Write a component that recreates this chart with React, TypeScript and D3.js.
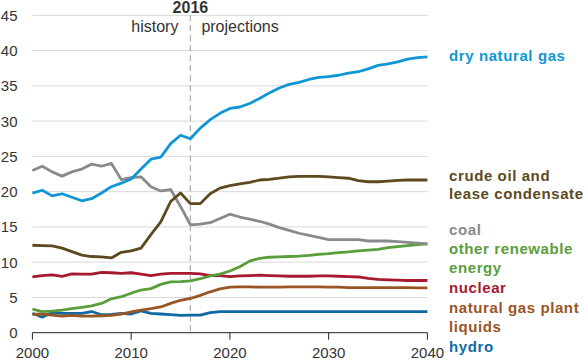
import React, { useEffect, useRef } from "react";
import * as d3 from "d3";

// years 2000..2040
const years = d3.range(2000, 2041);

const dryNaturalGas = [
	19.8, 20.2, 19.4, 19.7, 19.2, 18.7, 19.0, 19.8, 20.7, 21.2, 21.8, 23.2, 24.6, 24.9, 26.8, 28.0, 27.5,
	29.0, 30.2, 31.1, 31.8, 32.0, 32.5, 33.2, 34.0, 34.7, 35.2, 35.5, 35.9, 36.2, 36.3, 36.5, 36.8, 37.0,
	37.4, 37.9, 38.1, 38.4, 38.8, 39.0, 39.1,
];
const crudeOil = [
	12.4, 12.35, 12.3, 12.0, 11.5, 11.0, 10.8, 10.75, 10.6, 11.4, 11.6, 12.0, 13.9, 15.7, 18.6, 19.8, 18.3,
	18.3, 19.7, 20.5, 20.85, 21.1, 21.3, 21.65, 21.75, 21.9, 22.1, 22.15, 22.15, 22.15, 22.1, 22.0, 21.9,
	21.55, 21.4, 21.4, 21.5, 21.6, 21.65, 21.65, 21.65,
];
const coal = [
	23.0, 23.6, 22.8, 22.2, 22.8, 23.2, 23.9, 23.6, 24.0, 21.7, 22.0, 22.1, 20.7, 20.1, 20.3, 17.9, 15.3,
	15.4, 15.6, 16.2, 16.8, 16.4, 16.1, 15.8, 15.4, 14.9, 14.5, 14.1, 13.8, 13.5, 13.2, 13.2, 13.2, 13.2,
	13.0, 13.0, 13.0, 12.9, 12.8, 12.7, 12.6,
];
const otherRenewable = [
	3.35, 3.0, 3.05, 3.2, 3.4, 3.6, 3.8, 4.15, 4.8, 5.1, 5.6, 6.05, 6.25, 6.85, 7.2, 7.25, 7.35,
	7.65, 8.05, 8.3, 8.75, 9.35, 10.15, 10.55, 10.7, 10.75, 10.8, 10.85, 10.95, 11.1, 11.2, 11.35, 11.45,
	11.6, 11.7, 11.8, 12.05, 12.2, 12.35, 12.5, 12.6,
];
const nuclear = [
	7.9, 8.1, 8.2, 8.0, 8.35, 8.3, 8.3, 8.55, 8.5, 8.4, 8.5, 8.3, 8.1, 8.3, 8.4, 8.4, 8.4,
	8.35, 8.1, 8.1, 7.95, 8.05, 8.1, 8.15, 8.1, 8.05, 8.0, 8.0, 8.0, 8.05, 8.05, 8.0, 7.95, 7.9,
	7.7, 7.55, 7.5, 7.45, 7.4, 7.4, 7.4,
];
const ngpl = [
	2.6, 2.65, 2.5, 2.35, 2.45, 2.35, 2.35, 2.4, 2.45, 2.65, 2.95, 3.2, 3.4, 3.65, 4.15, 4.6, 4.85,
	5.3, 5.8, 6.2, 6.45, 6.5, 6.5, 6.45, 6.45, 6.45, 6.5, 6.5, 6.5, 6.5, 6.45, 6.45, 6.4, 6.4,
	6.4, 6.4, 6.4, 6.4, 6.4, 6.35, 6.35,
];
const hydro = [
	2.75, 2.2, 2.85, 2.75, 2.75, 2.75, 3.0, 2.55, 2.6, 2.75, 2.65, 3.1, 2.75, 2.65, 2.55, 2.45, 2.5,
	2.5, 2.85, 3.0, 3.0, 3.0, 3.0, 3.0, 3.0, 3.0, 3.0, 3.0, 3.0, 3.0, 3.0, 3.0, 3.0, 3.0,
	3.0, 3.0, 3.0, 3.0, 3.0, 3.0, 3.0,
];

const yTicks = [0, 5, 10, 15, 20, 25, 30, 35, 40, 45];
const xTicks = [2000, 2010, 2020, 2030, 2040];

const series = [
	{ name: "hydro", values: hydro, color: "#0f6aa3" },
	{ name: "ngpl", values: ngpl, color: "#9a5525" },
	{ name: "nuclear", values: nuclear, color: "#a6192e" },
	{ name: "other", values: otherRenewable, color: "#5a9e3c" },
	{ name: "coal", values: coal, color: "#8a8a8c" },
	{ name: "crude", values: crudeOil, color: "#5c4a1e" },
	{ name: "gas", values: dryNaturalGas, color: "#0f96d6" },
];

// right hand labels: text, colour and the pixel row of each line
const labels = [
	{ text: "dry natural gas", color: "#0f96d6", y: 56 },
	{ text: "crude oil and", color: "#5c4a1e", y: 176 },
	{ text: "lease condensate", color: "#5c4a1e", y: 194 },
	{ text: "coal", color: "#8a8a8c", y: 230 },
	{ text: "other renewable", color: "#5a9e3c", y: 249 },
	{ text: "energy", color: "#5a9e3c", y: 268 },
	{ text: "nuclear", color: "#a6192e", y: 288 },
	{ text: "natural gas plant", color: "#9a5525", y: 308 },
	{ text: "liquids", color: "#9a5525", y: 327 },
	{ text: "hydro", color: "#0f6aa3", y: 347 },
];

export default function App() {
	const ref = useRef<SVGSVGElement>(null);

	useEffect(() => {
		const svg = d3.select(ref.current);
		svg.selectAll("*").remove();

		const font = "'Liberation Sans', Arial, sans-serif";
		const x = d3.scaleLinear().domain([2000, 2040]).range([32.4, 427.4]);
		const y = d3.scaleLinear().domain([0, 45]).range([332.7, 15.3]);

		// gridlines
		svg.append("g")
			.selectAll("line")
			.data(yTicks.filter((d) => d > 0))
			.enter().append("line")
			.attr("x1", x(2000)).attr("x2", x(2040))
			.attr("y1", (d) => y(d)).attr("y2", (d) => y(d))
			.attr("stroke", "#d9d9d9").attr("stroke-width", 1);

		// y labels
		svg.append("g")
			.selectAll("text")
			.data(yTicks)
			.enter().append("text")
			.attr("x", 17.5).attr("y", (d) => y(d))
			.attr("dy", "0.36em")
			.attr("text-anchor", "end")
			.attr("font-family", font).attr("font-size", 15)
			.attr("fill", "#333")
			.text((d) => d);

		// x axis
		svg.append("line")
			.attr("x1", x(2000)).attr("x2", x(2040))
			.attr("y1", y(0)).attr("y2", y(0))
			.attr("stroke", "#222").attr("stroke-width", 1);

		svg.append("g")
			.selectAll("line")
			.data(xTicks)
			.enter().append("line")
			.attr("x1", (d) => x(d)).attr("x2", (d) => x(d))
			.attr("y1", y(0)).attr("y2", y(0) + 7)
			.attr("stroke", "#222").attr("stroke-width", 1);

		svg.append("g")
			.selectAll("text")
			.data(xTicks)
			.enter().append("text")
			.attr("x", (d) => x(d)).attr("y", 357.5)
			.attr("text-anchor", "middle")
			.attr("font-family", font).attr("font-size", 15)
			.attr("fill", "#333")
			.text((d) => d);

		// 2016 divider
		svg.append("line")
			.attr("x1", x(2016)).attr("x2", x(2016))
			.attr("y1", y(45)).attr("y2", y(0))
			.attr("stroke", "#b0b0b0").attr("stroke-width", 1.3)
			.attr("stroke-dasharray", "6,4");

		svg.append("text")
			.attr("x", x(2016)).attr("y", 13)
			.attr("text-anchor", "middle")
			.attr("font-family", font).attr("font-size", 16).attr("font-weight", "bold")
			.attr("fill", "#333")
			.text("2016");

		svg.append("text")
			.attr("x", x(2016) - 12).attr("y", 32)
			.attr("text-anchor", "end")
			.attr("font-family", font).attr("font-size", 16)
			.attr("fill", "#333")
			.text("history");

		svg.append("text")
			.attr("x", x(2016) + 11).attr("y", 32)
			.attr("text-anchor", "start")
			.attr("font-family", font).attr("font-size", 16)
			.attr("fill", "#333")
			.text("projections");

		const line = d3.line<number>()
			.x((d, i) => x(years[i]))
			.y((d) => y(d));

		series.forEach((s) => {
			svg.append("path")
				.datum(s.values)
				.attr("fill", "none")
				.attr("stroke", s.color)
				.attr("stroke-width", 2.8)
				.attr("stroke-linejoin", "round")
				.attr("d", line);
		});

		svg.append("g")
			.selectAll("text")
			.data(labels)
			.enter().append("text")
			.attr("x", 449).attr("y", (d) => d.y)
			.attr("dy", "0.36em")
			.attr("font-family", font).attr("font-size", 15).attr("font-weight", "bold")
			.attr("letter-spacing", 0.6)
			.attr("fill", (d) => d.color)
			.text((d) => d.text);
	}, []);

	return (
		<svg
			ref={ref}
			width={588}
			height={362}
			style={{ position: "absolute", left: 0, top: 0, background: "#fff" }}
		/>
	);
}
